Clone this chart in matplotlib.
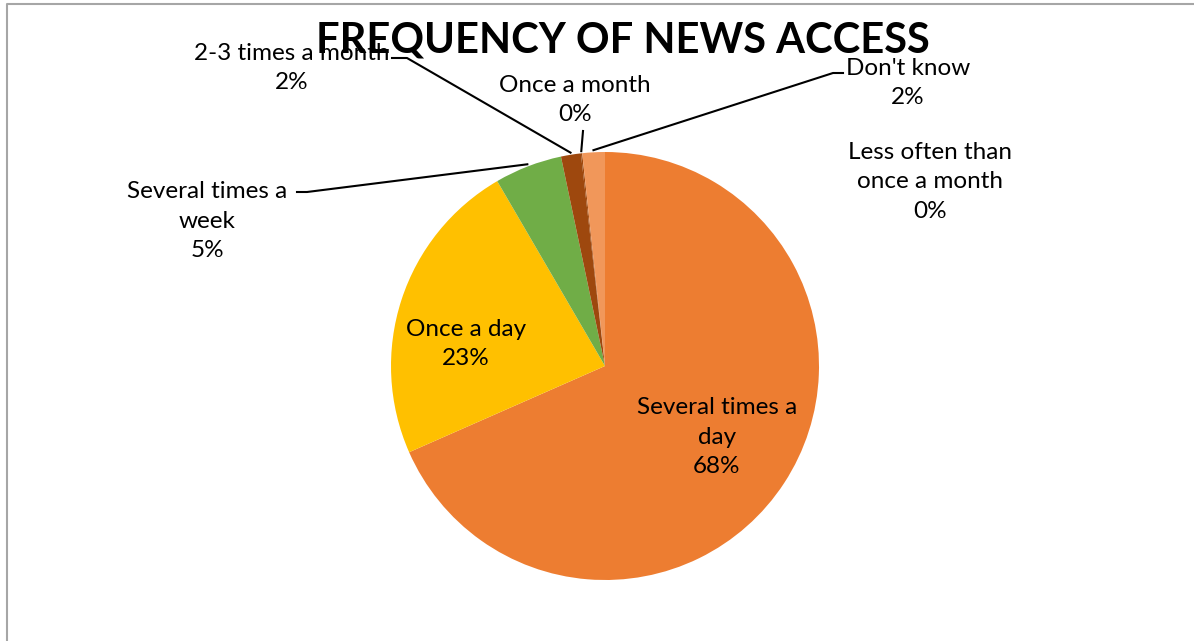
import matplotlib
matplotlib.use("Agg")
import matplotlib.pyplot as plt
import numpy as np
from matplotlib.lines import Line2D

W, H = 1194, 641

categories = ["Several times a day", "Once a day", "Several times a week",
              "2-3 times a month", "Once a month", "Less often than once a month",
              "Don't know"]
shares = [68.4, 23.2, 5.1, 1.5, 0.1, 0.0, 1.7]
label_texts = ["Several times a\nday\n68%", "Once a day\n23%", "Several times a\nweek\n5%",
               "2-3 times a month\n2%", "Once a month\n0%", "Less often than\nonce a month\n0%",
               "Don't know\n2%"]
colors = ["#ED7D31", "#FFC000", "#70AD47", "#9E480E", "#9E480E", "#F8CBAD", "#F1975A"]

plt.rcParams['font.family'] = ['Lato', 'DejaVu Sans']

fig = plt.figure(figsize=(W / 100, H / 100), dpi=100)

def fx(px):
    return px / W

def fy(py):
    return 1 - py / H

# pie centre (605, 366) px, radius 214 px
cx, cy, r = 605, 366, 214
ax = fig.add_axes([fx(cx - r), fy(cy + r), 2 * r / W, 2 * r / H])
wedges, _ = ax.pie(shares, colors=colors, startangle=90, counterclock=False, radius=1.0,
                   wedgeprops=dict(linewidth=0))
ax.set_xlim(-1, 1)
ax.set_ylim(-1, 1)
ax.set_aspect("equal")
ax.axis("off")

fs = 17.5
# label positions (centre of text block, px) and leader anchor (px) or None
label_pos = [(717, 437), (466, 344), (207, 221), (292, 68), (575, 100), (930, 182), (908, 83)]
spacing = [1.52, 1.52, 1.52, 1.52, 1.52, 1.52, 1.42]
leader_from = [None, None, (297, 192), (392, 58), (583, 131), None, (843, 73)]
leader_kink = [None, None, (307, 192), (407, 58), None, None, (833, 73)]

for i, (txt, (lx, ly)) in enumerate(zip(label_texts, label_pos)):
    fig.text(fx(lx), fy(ly), txt, ha="center", va="center", fontsize=fs,
             linespacing=spacing[i], color="black")
    if leader_from[i] is not None:
        w = wedges[i]
        mid = np.deg2rad((w.theta1 + w.theta2) / 2)
        ex = cx + r * 1.01 * np.cos(mid)
        ey = cy - r * 1.01 * np.sin(mid)
        pts = [leader_from[i]]
        if leader_kink[i] is not None:
            pts.append(leader_kink[i])
        pts.append((ex, ey))
        xs = [fx(p[0]) for p in pts]
        ys = [fy(p[1]) for p in pts]
        fig.add_artist(Line2D(xs, ys, color="black", lw=1.5, transform=fig.transFigure))

fig.text(fx(623), fy(40), "FREQUENCY OF NEWS ACCESS", ha="center", va="center",
         fontsize=30, fontweight="bold", color="black")

# chart area border (cropped on right/bottom)
fig.add_artist(Line2D([fx(7), fx(7), fx(W + 5)], [fy(H + 5), fy(4), fy(4)],
                      color="#A6A6A6", lw=1.5, transform=fig.transFigure))

fig.savefig("out.png", dpi=100, facecolor="white")
